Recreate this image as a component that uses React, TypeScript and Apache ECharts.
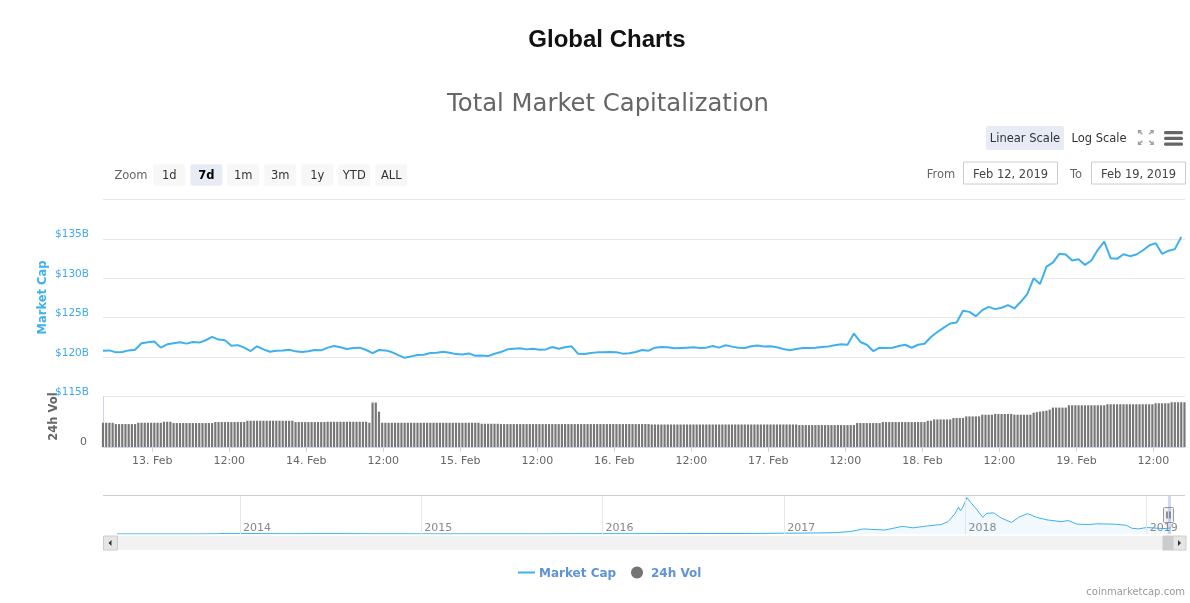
import React, { useEffect, useRef } from "react";
import * as echarts from "echarts";

// ---------- DATA ----------
const LINE_START = "2019-02-12T16:20";
const LINE_STEP_MIN = 60;
// Total market capitalization, $B (hourly)
const marketCap = [
  120.81, 120.85, 120.6, 120.64, 120.85, 120.94, 121.75, 121.88, 121.97, 121.2,
  121.62, 121.75, 121.88, 121.71, 121.92, 121.84, 122.14, 122.56, 122.22, 122.14,
  121.45, 121.52, 121.2, 120.77, 121.37, 120.98, 120.68, 120.81, 120.85, 120.94,
  120.73, 120.64, 120.73, 120.9, 120.86, 121.2, 121.41, 121.24, 121.03, 121.15,
  121.2, 120.9, 120.51, 120.9, 120.85, 120.64, 120.26, 119.91, 120.09, 120.26,
  120.3, 120.51, 120.56, 120.68, 120.56, 120.38, 120.34, 120.47, 120.17, 120.21,
  120.13, 120.43, 120.64, 120.98, 121.07, 121.11, 120.98, 121.07, 120.94, 120.98,
  121.28, 121.07, 121.24, 121.37, 120.43, 120.38, 120.51, 120.6, 120.61, 120.65,
  120.61, 120.44, 120.48, 120.65, 120.91, 120.82, 121.2, 121.29, 121.24, 121.12,
  121.16, 121.2, 121.24, 121.16, 121.2, 121.41, 121.2, 121.5, 121.33, 121.2,
  121.16, 121.37, 121.46, 121.33, 121.37, 121.24, 121.03, 120.86, 121.03, 121.16,
  121.16, 121.2, 121.28, 121.36, 121.49, 121.62, 121.57, 122.98, 121.92, 121.57,
  120.77, 121.19, 121.15, 121.19, 121.4, 121.57, 121.19, 121.57, 121.7, 122.55,
  123.19, 123.74, 124.26, 124.38, 125.87, 125.74, 125.19, 125.96, 126.38, 126.09,
  126.26, 126.6, 126.17, 127.02, 128.0, 130.0, 129.28, 131.49, 132.0, 133.11,
  133.02, 132.26, 132.43, 131.7, 132.26, 133.62, 134.64, 132.55, 132.47, 133.06,
  132.81, 133.02, 133.53, 134.17, 134.47, 133.11, 133.49, 133.7, 135.23,
];

const VOL_START = "2019-02-12T16:20";
const VOL_STEP_MIN = 30;
// 24h volume, $B (half-hourly)
const volume24h = [
  24, 24, 24, 24,
  22.7, 22.7, 22.7, 22.7, 22.7, 22.7, 22.7,
  24, 24, 24, 24, 24, 24, 24, 24,
  25, 25, 25,
  23.7, 23.7, 23.7, 23.7, 23.7, 23.7, 23.7, 23.7, 23.7, 23.7, 23.7, 23.7, 23.7,
  24.7, 24.7, 24.7, 24.7, 24.7, 24.7, 24.7, 24.7, 24.7, 24.7,
  26, 26, 26, 26, 26, 26, 26, 26, 26, 26, 26, 26, 26, 26, 26,
  24.7, 24.7, 24.7, 24.7, 24.7, 24.7, 24.7, 24.7, 24.7, 24.7,
  25, 25, 25, 25, 25, 25, 25, 25, 25, 25, 25, 25, 25,
  24,
  44, 44, 35,
  24, 24, 24, 24, 24, 24, 24, 24, 24, 24,
  24, 24, 24, 24, 24, 24, 24, 24, 24, 24,
  24, 24, 24, 24, 24, 24, 24, 24, 24, 24, 24,
  23, 23, 23, 23, 23, 23,
  22.7, 22.7, 22.7, 22.7, 22.7, 22.7, 22.7, 22.7, 22.7, 22.7,
  22.7, 22.7, 22.7, 22.7, 22.7, 22.7, 22.7, 22.7, 22.7, 22.7,
  22.7, 22.7, 22.7, 22.7, 22.7, 22.7, 22.7, 22.7, 22.7, 22.7,
  22.7, 22.7, 22.7, 22.7, 22.7, 22.7, 22.7, 22.7, 22.7, 22.7,
  22.7, 22.7, 22.7, 22.7, 22.7, 22.7, 22.7,
  22.3, 22.3, 22.3, 22.3, 22.3, 22.3, 22.3, 22.3, 22.3, 22.3,
  22.3, 22.3, 22.3, 22.3, 22.3, 22.3, 22.3, 22.3, 22.3, 22.3,
  22.3, 22.3, 22.3, 22.3, 22.3, 22.3, 22.3, 22.3, 22.3, 22.3,
  22.3, 22.3, 22.3, 22.3, 22.3, 22.3, 22.3, 22.3, 22.3, 22.3,
  22.3, 22.3, 22.3, 22.3, 22.3, 22.3,
  21.7, 21.7, 21.7, 21.7, 21.7, 21.7, 21.7, 21.7, 21.7, 21.7,
  21.7, 21.7, 21.7, 21.7, 21.7, 21.7, 21.7, 21.7,
  23.7, 23.7, 23.7, 23.7, 23.7, 23.7, 23.7, 23.7,
  24.7, 24.7, 24.7, 24.7, 24.7, 24.7, 24.7, 24.7, 24.7, 24.7, 24.7, 24.7, 24.7, 24.7,
  26, 26,
  27.3, 27.3, 27.3, 27.3, 27.3, 27.3,
  28.7, 28.7, 28.7, 28.7,
  30.3, 30.3, 30.3, 30.3, 30.3,
  32, 32, 32, 32,
  32.7, 32.7, 32.7, 32.7, 32.7, 32.7,
  32, 32, 32, 32, 32, 32,
  34, 34.5, 35, 35.5, 36, 37,
  39, 39, 39, 39, 39,
  41.3, 41.3, 41.3, 41.3, 41.3, 41.3, 41.3, 41.3, 41.3, 41.3, 41.3, 41.3,
  42.3, 42.3, 42.3, 42.3, 42.3, 42.3, 42.3, 42.3, 42.3, 42.3, 42.3, 42.3, 42.3, 42.3, 42.3,
  43.3, 43.3, 43.3, 43.3, 43.3,
  44.3, 44.3, 44.3, 44.3, 44.3,
];

const AXIS_MIN = "2019-02-12T16:20";
const AXIS_MAX = "2019-02-19T16:55";
const timeTicks = [
  "2019-02-13T00:00", "2019-02-13T12:00", "2019-02-14T00:00", "2019-02-14T12:00",
  "2019-02-15T00:00", "2019-02-15T12:00", "2019-02-16T00:00", "2019-02-16T12:00",
  "2019-02-17T00:00", "2019-02-17T12:00", "2019-02-18T00:00", "2019-02-18T12:00",
  "2019-02-19T00:00", "2019-02-19T12:00",
];
const CAP_MIN = 115;
const CAP_MAX = 140;
const CAP_STEP = 5;
const VOL_MAX = 50;

// Navigator: full history of total market cap, $B
const navDates = [
  "2013-04-28", "2013-06-01", "2013-08-01", "2013-10-01", "2013-11-15", "2013-12-04",
  "2013-12-20", "2014-01-15", "2014-02-15", "2014-04-01", "2014-06-01", "2014-08-01",
  "2014-10-01", "2014-12-01", "2015-01-15", "2015-04-01", "2015-07-01", "2015-09-01",
  "2015-11-04", "2016-01-01", "2016-03-01", "2016-06-15", "2016-08-01", "2016-11-01",
  "2017-01-01", "2017-03-01", "2017-04-15", "2017-05-15", "2017-06-10", "2017-06-25",
  "2017-07-23", "2017-08-27", "2017-09-17", "2017-10-15", "2017-11-13", "2017-11-27",
  "2017-12-11", "2017-12-18", "2017-12-22", "2017-12-26", "2018-01-04", "2018-01-12",
  "2018-01-23", "2018-02-05", "2018-02-13", "2018-02-27", "2018-03-14", "2018-04-04",
  "2018-04-18", "2018-05-06", "2018-05-24", "2018-06-14", "2018-07-13", "2018-07-27",
  "2018-08-14", "2018-09-08", "2018-09-22", "2018-10-27", "2018-11-21", "2018-12-02",
  "2018-12-15", "2019-01-01", "2019-02-03", "2019-02-12", "2019-02-19",
];
const navValues = [
  1.5, 1.3, 1.2, 1.6, 5.0, 14,
  8.5, 10.5, 8.5, 5.5, 8.0, 7.5,
  4.9, 5.0, 3.2, 3.6, 4.2, 3.5,
  6.0, 7.0, 6.8, 11.5, 9.5, 12,
  17.7, 22, 30, 55, 110, 100,
  86, 165, 133, 172, 204, 267,
  440, 580, 500, 565, 785, 675,
  540, 360, 447, 455, 345, 250,
  360, 440, 360, 305, 267, 290,
  212, 204, 220, 212, 188, 125,
  110, 140, 118, 121, 135,
];
const NAV_MAX = 820;
const navYears = ["2014", "2015", "2016", "2017", "2018", "2019"];

const rangeButtons = ["1d", "7d", "1m", "3m", "1y", "YTD", "ALL"];
const SELECTED_RANGE = "7d";
const FROM_DATE = "Feb 12, 2019";
const TO_DATE = "Feb 19, 2019";

const MONTHS = ["Jan", "Feb", "Mar", "Apr", "May", "Jun", "Jul", "Aug", "Sep", "Oct", "Nov", "Dec"];

// ---------- HELPERS ----------
function toTime(s: string): number {
  const [d, t = "00:00"] = s.split("T");
  const [y, m, dd] = d.split("-").map(Number);
  const [hh, mm] = t.split(":").map(Number);
  return new Date(y, m - 1, dd, hh, mm).getTime();
}

const BLUE = "#3fb0ee";
const FONT = "DejaVu Sans";

export default function App() {
  const ref = useRef<HTMLDivElement>(null);

  useEffect(() => {
    if (!ref.current) return;
    const chart = echarts.init(ref.current, undefined, { renderer: "svg" });

    const lineStart = toTime(LINE_START);
    const volStart = toTime(VOL_START);
    const capData = marketCap.map((v, i) => [lineStart + i * LINE_STEP_MIN * 60000, v]);
    const volData = volume24h.map((v, i) => [volStart + i * VOL_STEP_MIN * 60000, v]);
    const xMin = toTime(AXIS_MIN);
    const xMax = toTime(AXIS_MAX);
    const ticks = timeTicks.map(toTime);
    const navData = navDates.map((d, i) => [toTime(d), navValues[i]]);
    const yearTicks = navYears.map((y) => toTime(`${y}-01-01`));

    const timeLabel = (v: number) => {
      const d = new Date(v);
      if (d.getHours() === 0) return `${d.getDate()}. ${MONTHS[d.getMonth()]}`;
      return `${String(d.getHours()).padStart(2, "0")}:${String(d.getMinutes()).padStart(2, "0")}`;
    };

    const btnX0 = 153.3;
    const btnPitch = 37;
    const buttons: any[] = [];
    rangeButtons.forEach((b, i) => {
      const x = btnX0 + i * btnPitch;
      const sel = b === SELECTED_RANGE;
      buttons.push({
        type: "rect",
        shape: { x, y: 164.3, width: 32, height: 21.5, r: 2 },
        style: { fill: sel ? "#e6ebf5" : "#f7f7f7" },
      });
      buttons.push({
        type: "text",
        x: x + 16,
        y: 175,
        style: {
          text: b,
          fill: sel ? "#000" : "#333",
          fontSize: 11.5,
          fontFamily: FONT,
          fontWeight: sel ? "bold" : "normal",
          align: "center",
          verticalAlign: "middle",
        },
      });
    });

    const iconStroke = { stroke: "#9a9a9a", lineWidth: 1.4, fill: "none" };
    const fullscreen = [
      { type: "polyline", shape: { points: [[1138.6, 133.4], [1138.6, 130.6], [1141.4, 130.6]] }, style: iconStroke },
      { type: "line", shape: { x1: 1138.8, y1: 130.8, x2: 1142.3, y2: 134.3 }, style: iconStroke },
      { type: "polyline", shape: { points: [[1150.2, 130.6], [1153, 130.6], [1153, 133.4]] }, style: iconStroke },
      { type: "line", shape: { x1: 1152.8, y1: 130.8, x2: 1149.3, y2: 134.3 }, style: iconStroke },
      { type: "polyline", shape: { points: [[1138.6, 141.6], [1138.6, 144.4], [1141.4, 144.4]] }, style: iconStroke },
      { type: "line", shape: { x1: 1138.8, y1: 144.2, x2: 1142.3, y2: 140.7 }, style: iconStroke },
      { type: "polyline", shape: { points: [[1150.2, 144.4], [1153, 144.4], [1153, 141.6]] }, style: iconStroke },
      { type: "line", shape: { x1: 1152.8, y1: 144.2, x2: 1149.3, y2: 140.7 }, style: iconStroke },
    ];

    const hamburger = [131, 136.7, 142.4].map((y) => ({
      type: "rect",
      shape: { x: 1164, y, width: 19, height: 3.3, r: 1.5 },
      style: { fill: "#666" },
    }));

    const graphic: any[] = [
      {
        type: "text", x: 607, y: 38.5,
        style: { text: "Global Charts", fill: "#111", fontSize: 24, fontWeight: "bold", fontFamily: "Liberation Sans", align: "center", verticalAlign: "middle" },
      },
      {
        type: "text", x: 608, y: 102,
        style: { text: "Total Market Capitalization", fill: "#666", fontSize: 24.3, fontFamily: FONT, align: "center", verticalAlign: "middle" },
      },
      { type: "rect", shape: { x: 986, y: 126, width: 78, height: 24, r: 2 }, style: { fill: "#e6ebf5" } },
      { type: "text", x: 1025, y: 138, style: { text: "Linear Scale", fill: "#333", fontSize: 11.5, fontFamily: FONT, align: "center", verticalAlign: "middle" } },
      { type: "text", x: 1099, y: 138, style: { text: "Log Scale", fill: "#333", fontSize: 11.5, fontFamily: FONT, align: "center", verticalAlign: "middle" } },
      ...fullscreen,
      ...hamburger,
      { type: "text", x: 131, y: 175, style: { text: "Zoom", fill: "#666", fontSize: 11.5, fontFamily: FONT, align: "center", verticalAlign: "middle" } },
      ...buttons,
      { type: "text", x: 941, y: 173.5, style: { text: "From", fill: "#666", fontSize: 11.5, fontFamily: FONT, align: "center", verticalAlign: "middle" } },
      { type: "rect", shape: { x: 963.5, y: 162, width: 94, height: 22 }, style: { fill: "#fff", stroke: "#ccc", lineWidth: 1 } },
      { type: "text", x: 1010.5, y: 173.5, style: { text: FROM_DATE, fill: "#444", fontSize: 11.5, fontFamily: FONT, align: "center", verticalAlign: "middle" } },
      { type: "text", x: 1076, y: 173.5, style: { text: "To", fill: "#666", fontSize: 11.5, fontFamily: FONT, align: "center", verticalAlign: "middle" } },
      { type: "rect", shape: { x: 1091.5, y: 162, width: 94, height: 22 }, style: { fill: "#fff", stroke: "#ccc", lineWidth: 1 } },
      { type: "text", x: 1138.5, y: 173.5, style: { text: TO_DATE, fill: "#444", fontSize: 11.5, fontFamily: FONT, align: "center", verticalAlign: "middle" } },
      // axis titles
      {
        type: "text", x: 41.5, y: 297.5, rotation: Math.PI / 2,
        style: { text: "Market Cap", fill: BLUE, fontSize: 11.5, fontWeight: "bold", fontFamily: FONT, align: "center", verticalAlign: "middle" },
      },
      {
        type: "text", x: 52.5, y: 416.5, rotation: Math.PI / 2,
        style: { text: "24h Vol", fill: "#666", fontSize: 11.5, fontWeight: "bold", fontFamily: FONT, align: "center", verticalAlign: "middle" },
      },
      // navigator outline
      { type: "line", shape: { x1: 103, y1: 495.5, x2: 1185, y2: 495.5 }, style: { stroke: "#cccccc", lineWidth: 1 } },
      // scrollbar
      { type: "rect", shape: { x: 103, y: 536, width: 1083, height: 14 }, style: { fill: "#f2f2f2" } },
      { type: "rect", shape: { x: 1163, y: 536, width: 10, height: 14 }, style: { fill: "#cccccc", stroke: "#cccccc" } },
      { type: "rect", shape: { x: 103.5, y: 536, width: 14, height: 14 }, style: { fill: "#e6e6e6", stroke: "#cccccc", lineWidth: 1 } },
      { type: "polygon", shape: { points: [[108.5, 543], [111.5, 540], [111.5, 546]] }, style: { fill: "#333" } },
      { type: "rect", shape: { x: 1173, y: 536, width: 13, height: 14 }, style: { fill: "#e6e6e6", stroke: "#cccccc", lineWidth: 1 } },
      { type: "polygon", shape: { points: [[1181, 543], [1178, 540], [1178, 546]] }, style: { fill: "#333" } },
      // navigator handle
      { type: "rect", shape: { x: 1163.5, y: 507.5, width: 10, height: 15, r: 1 }, style: { fill: "#f2f2f2", stroke: "#999", lineWidth: 1 } },
      { type: "line", shape: { x1: 1167, y1: 511.5, x2: 1167, y2: 518.5 }, style: { stroke: "#333", lineWidth: 1 } },
      { type: "line", shape: { x1: 1170, y1: 511.5, x2: 1170, y2: 518.5 }, style: { stroke: "#333", lineWidth: 1 } },
      // legend
      { type: "line", shape: { x1: 518, y1: 572.5, x2: 535, y2: 572.5 }, style: { stroke: BLUE, lineWidth: 2 } },
      { type: "text", x: 539, y: 572.5, style: { text: "Market Cap", fill: "#5f93d6", fontSize: 12, fontWeight: "bold", fontFamily: FONT, align: "left", verticalAlign: "middle" } },
      { type: "circle", shape: { cx: 637, cy: 572.5, r: 6 }, style: { fill: "#757575" } },
      { type: "text", x: 651, y: 572.5, style: { text: "24h Vol", fill: "#5f93d6", fontSize: 12, fontWeight: "bold", fontFamily: FONT, align: "left", verticalAlign: "middle" } },
      { type: "text", x: 1185, y: 591, style: { text: "coinmarketcap.com", fill: "#999", fontSize: 10, fontFamily: FONT, align: "right", verticalAlign: "middle" } },
    ];

    const option: any = {
      animation: false,
      textStyle: { fontFamily: FONT },
      grid: [
        { left: 103, right: 5, top: 199.5, height: 197 },
        { left: 103, right: 5, top: 396.5, height: 50.5 },
        { left: 117, right: 19, top: 496, height: 38 },
      ],
      xAxis: [
        { type: "value", gridIndex: 0, min: xMin, max: xMax, show: false },
        {
          type: "value", gridIndex: 1, min: xMin, max: xMax,
          axisLine: { show: true, lineStyle: { color: "#ccd6eb" } },
          axisTick: { show: true, customValues: ticks, length: 5, lineStyle: { color: "#ccd6eb" } },
          axisLabel: { customValues: ticks, formatter: timeLabel, color: "#666", fontSize: 11, margin: 8 },
          splitLine: { show: false },
        },
        {
          type: "value", gridIndex: 2, min: navData[0][0], max: navData[navData.length - 1][0],
          axisLine: { show: false },
          axisTick: { show: false, customValues: yearTicks },
          axisLabel: {
            customValues: yearTicks,
            inside: true,
            formatter: (v: number) => String(new Date(v).getFullYear()),
            color: "#888", fontSize: 11, margin: 1, align: "left", padding: [0, 0, 0, 3],
          },
          splitLine: { show: false },
        },
      ],
      yAxis: [
        {
          type: "value", gridIndex: 0, min: CAP_MIN, max: CAP_MAX, interval: CAP_STEP,
          axisLine: { show: false }, axisTick: { show: false },
          axisLabel: {
            formatter: (v: number) => `$${v}B`, color: "#41a9ed", fontSize: 10.5, margin: 14,
            verticalAlign: "bottom", showMaxLabel: false,
          },
          splitLine: { show: true, lineStyle: { color: "#e6e6e6", width: 1 } },
        },
        {
          type: "value", gridIndex: 1, min: 0, max: VOL_MAX, interval: VOL_MAX,
          axisLine: { show: true, lineStyle: { color: "#ccd6eb" } }, axisTick: { show: false },
          axisLabel: { color: "#666", fontSize: 11, margin: 16, verticalAlign: "bottom", showMaxLabel: false },
          splitLine: { show: false },
        },
        { type: "value", gridIndex: 2, min: 0, max: NAV_MAX, show: false },
      ],
      series: [
        {
          name: "Market Cap", type: "line", xAxisIndex: 0, yAxisIndex: 0,
          data: capData, showSymbol: false, symbol: "none",
          lineStyle: { color: BLUE, width: 2 }, itemStyle: { color: BLUE },
        },
        {
          name: "24h Vol", type: "bar", xAxisIndex: 1, yAxisIndex: 1,
          data: volData, barWidth: 2.2, itemStyle: { color: "#777" },
        },
        {
          name: "Navigator", type: "line", xAxisIndex: 2, yAxisIndex: 2,
          data: navData, showSymbol: false, symbol: "none",
          lineStyle: { color: BLUE, width: 1 },
          areaStyle: { color: "rgba(63,176,238,0.1)" },
          markLine: {
            silent: true, symbol: "none", label: { show: false },
            lineStyle: { color: "#e6e6e6", type: "solid", width: 1 },
            data: yearTicks.map((t) => ({ xAxis: t })),
          },
          markArea: {
            silent: true,
            itemStyle: { color: "rgba(102,133,194,0.3)" },
            data: [[{ xAxis: xMin }, { xAxis: xMax }]],
          },
        },
      ],
      graphic,
    };

    chart.setOption(option);
    return () => chart.dispose();
  }, []);

  return <div ref={ref} style={{ position: "fixed", left: 0, top: 0, width: 1190, height: 603 }} />;
}
